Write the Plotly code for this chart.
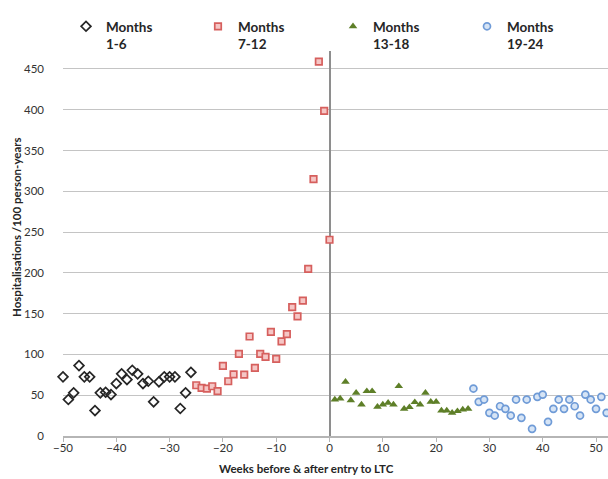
import plotly.graph_objects as go

# ---- data ----
weeks_1_6 = list(range(-50, -25))
vals_1_6 = [72.5, 44.7, 52.9, 86.3, 72.5, 72.5, 31.2, 52.9, 53.6, 50.8,
            64.3, 76.2, 69.2, 80.6, 76.2, 64.3, 67.1, 41.9, 66.4, 72.5,
            72.5, 72.5, 33.7, 52.9, 78.1]

weeks_7_12 = list(range(-25, 1))
vals_7_12 = [62.2, 59.0, 58.2, 61.0, 54.9, 86.0, 67.1, 75.5, 100.6, 75.3,
             122.0, 83.5, 100.6, 97.0, 127.6, 94.5, 116.0, 125.0, 158.0, 146.7,
             166.0, 205.0, 315.0, 459.0, 398.5, 240.6]

weeks_13_18 = list(range(1, 27))
vals_13_18 = [44.7, 45.9, 66.4, 43.8, 52.9, 38.6, 54.9, 54.9, 35.8, 38.6,
              40.7, 38.6, 61.0, 33.3, 35.3, 41.4, 38.6, 52.9, 41.9, 41.9,
              31.2, 31.2, 28.4, 30.4, 32.4, 33.3]

weeks_19_24 = list(range(27, 53))
vals_19_24 = [58.2, 41.9, 44.7, 28.4, 25.1, 36.5, 33.3, 25.1, 44.7, 22.3,
              44.7, 8.8, 48.0, 50.8, 17.4, 33.3, 44.7, 33.3, 44.7, 36.5,
              25.1, 50.8, 44.7, 33.3, 48.0, 28.4]

series_names = ["Months<br>1-6", "Months<br>7-12", "Months<br>13-18", "Months<br>19-24"]
x_ticks = list(range(-50, 51, 10))
y_ticks = list(range(0, 451, 50))

FONT = "Lato, 'Open Sans', sans-serif"
W, H = 608, 479
ML, MR, MT, MB = 63, 0, 51, 43
PW, PH = W - ML - MR, H - MT - MB

fig = go.Figure()

fig.add_trace(go.Scatter(
    x=weeks_1_6, y=vals_1_6, mode="markers", name=series_names[0],
    marker=dict(symbol="diamond-open", size=7.5, color="#262626", line=dict(width=1.7)),
    cliponaxis=False, legend="legend"))
fig.add_trace(go.Scatter(
    x=weeks_7_12, y=vals_7_12, mode="markers", name=series_names[1],
    marker=dict(symbol="square", size=6.5, color="#F5C6C5",
                line=dict(width=1.7, color="#D65F5D")),
    cliponaxis=False, legend="legend2"))
fig.add_trace(go.Scatter(
    x=weeks_13_18, y=vals_13_18, mode="markers", name=series_names[2],
    marker=dict(symbol="triangle-up", size=7.5, color="#5E7F28",
                line=dict(width=0)),
    cliponaxis=False, legend="legend3"))
fig.add_trace(go.Scatter(
    x=weeks_19_24, y=vals_19_24, mode="markers", name=series_names[3],
    marker=dict(symbol="circle", size=7, color="#D6E4F5",
                line=dict(width=1.7, color="#6F9BD7")),
    cliponaxis=False, legend="legend4"))

def leg(xpx, ypx=11):
    return dict(xref="paper", yref="paper", x=(xpx - ML) / PW, y=1 + (MT - ypx) / PH,
                xanchor="left", yanchor="top", valign="top",
                bgcolor="rgba(0,0,0,0)",
                font=dict(family=FONT, size=13.5, color="#262626", weight="bold"))

fig.update_layout(
    width=W, height=H,
    margin=dict(l=ML, r=MR, t=MT, b=MB, autoexpand=False),
    paper_bgcolor="white", plot_bgcolor="white",
    font=dict(family=FONT, size=11, color="#333333"),
    showlegend=True,
    legend=leg(66), legend2=leg(198), legend3=leg(333), legend4=leg(467),
    xaxis=dict(range=[-50, 52.25], tickvals=x_ticks, showgrid=False, automargin=False,
               zeroline=True, zerolinecolor="#8E8E8E", zerolinewidth=1.6,
               showline=True, linecolor="#B5B5B5", linewidth=1.5,
               ticks="outside", ticklen=4, tickcolor="#B5B5B5", ticklabelstandoff=-4,
               tickfont=dict(family=FONT, size=11.5, color="#333333")),
    yaxis=dict(range=[0, 472], tickvals=y_ticks, showgrid=True, automargin=False,
               gridcolor="#C4C4C4", gridwidth=1.4, zeroline=False,
               showline=False, ticks="", ticklabelstandoff=18,
               tickfont=dict(family=FONT, size=11.5, color="#333333")),
    annotations=[
        dict(text="Weeks before & after entry to LTC", xref="paper", yref="paper",
             x=(306 - ML) / PW, y=-(468 - (H - MB)) / PH, xanchor="center",
             yanchor="middle", showarrow=False,
             font=dict(family=FONT, size=11.5, color="#262626", weight="bold")),
        dict(text="Hospitalisations /100 person-years", xref="paper", yref="paper",
             x=-(ML - 16) / PW, y=((H - MB) - 227) / PH, xanchor="center",
             yanchor="middle", textangle=-90, showarrow=False,
             font=dict(family=FONT, size=11.5, color="#262626", weight="bold")),
    ],
)

fig.write_html("out.html", config={"displayModeBar": False},
               post_script=["document.body.style.margin='0';document.body.style.overflow='hidden';"])
